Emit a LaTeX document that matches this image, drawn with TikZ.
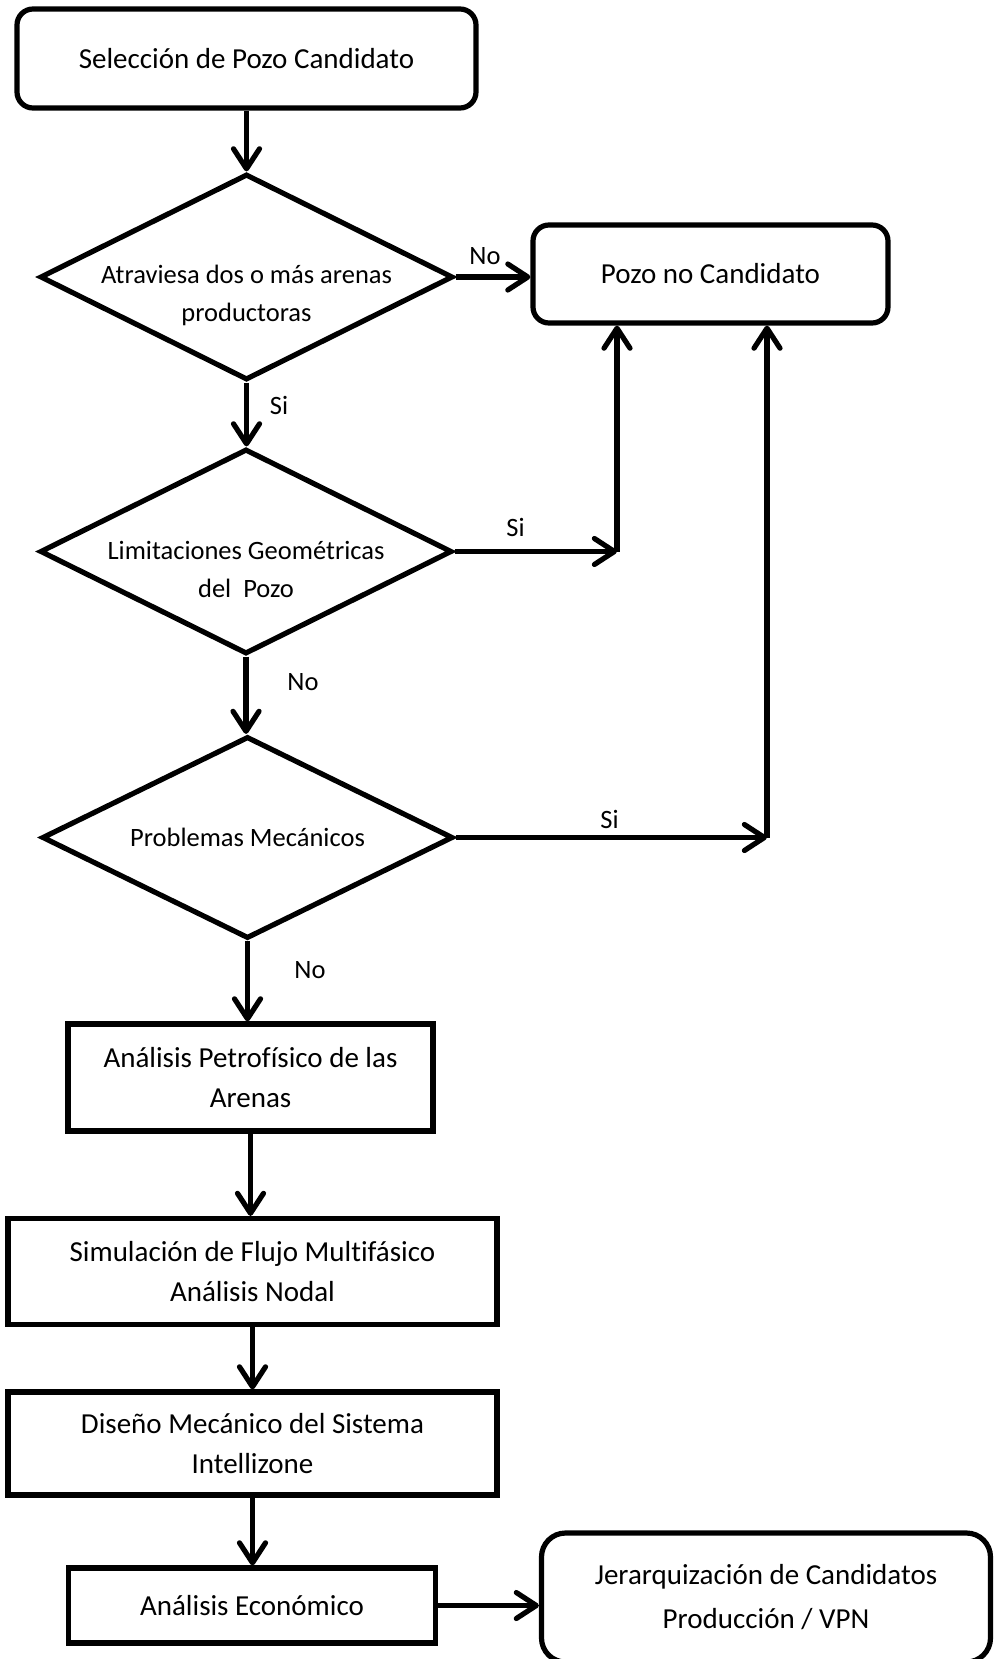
\documentclass[tikz,border=0pt]{standalone}
\usepackage{fontspec}
\setmainfont{Carlito}[Ligatures=NoCommon]
\usetikzlibrary{shapes.geometric,arrows.meta}
\begin{document}
\begin{tikzpicture}[x=0.5pt, y=-0.5pt, line width=2.6pt,
	>={Straight Barb[length=10pt,width=13pt,round]},
	caja/.style={draw, rectangle, inner sep=0pt, align=center, font=\fontsize{14.5}{20}\selectfont},
	cajar/.style={caja, rounded corners=8pt},
	rombo/.style={draw, diamond, inner sep=0pt},
	txt/.style={align=center, font=\fontsize{13.25}{19}\selectfont},
	lbl/.style={font=\fontsize{13.25}{16}\selectfont}]
	\useasboundingbox (0,0) rectangle (993,1659);
	
	% cajas
	\node[cajar, minimum width=229.5pt, minimum height=49.5pt] (sel) at (246.5,58.5) {Selección de Pozo Candidato};
	\node[cajar, minimum width=177.5pt, minimum height=49pt] (pozo) at (710.5,274) {Pozo no Candidato};
	\node[caja, minimum width=182.5pt, minimum height=53.5pt] (petro) at (250.5,1077.5) {Análisis Petrofísico de las\\Arenas};
	\node[caja, minimum width=244.5pt, minimum height=53pt] (sim) at (252.5,1271.5) {Simulación de Flujo Multifásico\\Análisis Nodal};
	\node[caja, minimum width=244.5pt, minimum height=51.5pt] (dis) at (252.5,1443.5) {Diseño Mecánico del Sistema\\Intellizone};
	\node[caja, minimum width=183.5pt, minimum height=37.5pt] (econ) at (252,1605.5) {Análisis Económico};
	\node[cajar, rounded corners=12pt, minimum width=224.5pt, minimum height=64.5pt, font=\fontsize{14.5}{22}\selectfont] (jer) at (766,1597.5) {Jerarquización de Candidatos\\Producción / VPN};
	
	% decisiones
	\node[rombo, minimum width=206.5pt, minimum height=103pt] (d1) at (246.5,277) {};
	\node[rombo, minimum width=206pt, minimum height=102.5pt] (d2) at (246,551.5) {};
	\node[rombo, minimum width=205.5pt, minimum height=101pt] (d3) at (247.5,837.5) {};
	\node[txt, yshift=-9pt] (t1) at (d1.center) {Atraviesa dos o más arenas\\productoras};
	\node[txt, yshift=-9pt] (t2) at (d2.center) {Limitaciones Geométricas\\del\ \ Pozo};
	\node[txt] (t3) at (d3.center) {Problemas Mecánicos};
	
	% flechas
	\foreach \a/\b in {sel/d1, d1/d2, d2/d3, d3/petro, petro/sim, sim/dis, dis/econ}
	{
		\draw[->] (\a.south) -- (\a.south |- \b.north);
	}
	\coordinate (c1) at (617,551.5);
	\coordinate (c2) at (767,837.5);
	\draw[->] (d1.east) -- (d1.east -| pozo.west);
	\draw[->] (d2.east) -- (c1);
	\draw[->] (c1) -- (c1 |- pozo.south);
	\draw[->] (d3.east) -- (c2);
	\draw[->] (c2) -- (c2 |- pozo.south);
	\draw[->] (econ.east) -- (econ.east -| jer.west);
	
	% etiquetas
	\node[lbl] (no1) at (485,256) {No};
	\node[lbl] (si1) at (279,405) {Si};
	\node[lbl] (si2) at (515.5,527.5) {Si};
	\node[lbl] (no2) at (303,682.5) {No};
	\node[lbl] (si3) at (609.5,819) {Si};
	\node[lbl] (no3) at (310,970.5) {No};
\end{tikzpicture}
\end{document}
